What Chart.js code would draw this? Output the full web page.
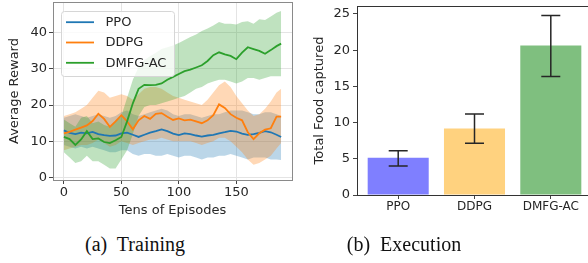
<!DOCTYPE html>
<html>
<head>
<meta charset="utf-8">
<script src="https://cdn.jsdelivr.net/npm/chart.js@4"></script>
<style>
  html, body { margin: 0; padding: 0; background: #fff; width: 588px; height: 263px; overflow: hidden; }
  canvas { position: absolute; top: 0; }
  #train { left: 0; }
  #exec { left: 290px; }
  .cap { position: absolute; top: 233px; font: 20px "Liberation Serif", "Times New Roman", serif; color: #111; white-space: pre; transform: translateX(-50%); }
</style>
</head>
<body>
<canvas id="train" width="300" height="222"></canvas>
<canvas id="exec" width="304" height="222"></canvas>
<div class="cap" style="left:135px">(a)  Training</div>
<div class="cap" style="left:404px">(b)  Execution</div>
<script>
// training curves, read every 5 tens of episodes
const xs = [0,5,10,15,20,25,30,35,40,45,50,55,60,65,70,75,80,85,90,95,100,105,110,115,120,125,130,135,140,145,150,155,160,165,170,175,180,185,189];

const ppoMean = [13.0,12.3,12.0,12.4,12.2,12.6,12.0,11.7,11.5,11.6,12.2,12.4,11.8,11.2,11.8,12.4,12.8,13.3,12.8,12.1,11.7,12.2,12.0,11.6,11.3,11.6,11.8,12.2,12.5,12.9,12.7,12.1,11.8,12.0,12.3,12.8,12.5,11.8,11.2];
const ppoHi   = [16.5,17,17.5,17,16.5,17,17.5,17,16.5,17,18,18.5,17.5,17,17.5,18,18.5,19,18.5,17.5,17,17.5,17.5,17,16.5,17,17.5,17.5,18,18.5,18.5,18.5,18,17.5,17.5,18,18,17.5,17];
const ppoLo   = [9,8.5,8,8.5,8,8.5,8,7.5,7,7,7.5,7.5,6.5,6,6.5,6.5,6,6,6.5,6,5.5,6,6,5.5,5,5.5,5.5,6,6,6.5,6,5.5,5,5.5,5.5,5.5,5,5,4.8];

const ddpgMean = [12.2,12.6,13.2,13.8,14.4,15.6,17.6,16.2,14.0,15.5,17.2,15.5,13.3,15.8,17.0,16.2,17.6,17.8,16.8,15.9,16.3,15.8,16.0,15.5,15.0,15.8,17.2,20.2,19.2,17.5,16.5,15.8,12.5,10.6,12.2,13.2,13.6,16.8,16.8];
const ddpgHi   = [17,17.5,18,19,20,22,24,23.5,22,22.5,23,22.5,21.5,23,24.5,25,25,24.5,23.5,22.5,22,21.5,21,20.5,20,21.5,23.5,25.5,26.5,25,22.5,20.5,18.5,17,17.5,19,21,23.5,24.5];
const ddpgLo   = [7.5,8,8.5,9,9,9.5,10.5,9.5,8.5,9,10,9.5,9,9.5,10,10.5,10.5,11,10.5,10,10,10,10,9.5,9,9.5,10,11,11,10,8.5,7,5,3.5,4,5,6,8,9.5];

const dmfgMean = [11.2,10.6,9.0,10.5,12.8,10.6,10.8,9.8,9.5,10.3,11.2,15.5,20.5,24.5,25.6,25.5,25.6,26.0,27.0,27.8,28.6,29.4,29.8,30.4,31.0,32.2,33.8,34.6,34.0,33.6,32.7,34.5,36.0,35.5,35.0,34.2,35.2,36.3,37.0];
const dmfgHi   = [16,15,14,16.5,17,15,15.5,14.5,14,15.5,17,22,27,30.5,32.5,33.5,34.5,35.5,36,36.5,37.2,38,38.8,39.5,40.5,41.2,42,43,42.5,42.5,42.3,43,43.2,42.5,43.7,43.5,44.5,45.5,46];
const dmfgLo   = [7,5.5,4,4.5,6,4.5,4.5,3.5,2.5,2.5,5,7.5,12,17,19.5,20,20,20.5,21,21.5,22,22.5,23.5,24.5,25,26,26.5,27,27,26.5,26,26.5,27.5,27.5,27,27.5,28,28,28];

const xTicks = [0,50,100,150];
const yTicks = [0,10,20,30,40];

// execution bars
const algos = ['PPO','DDPG','DMFG-AC'];
const foodMean = [5.15,9.2,20.65];
const foodLow  = [4.0,7.15,16.35];
const foodHigh = [6.1,11.2,24.8];
const foodTicks = [0,5,10,15,20,25];

Chart.defaults.font.family = '"DejaVu Sans", sans-serif';
Chart.defaults.font.size = 13;
Chart.defaults.color = '#262626';

const pts = arr => arr.map((v, i) => ({x: xs[i], y: v}));

const band = (arr, fillColor, order) => ({
  data: pts(arr), borderWidth: 0, borderColor: 'rgba(0,0,0,0)', pointRadius: 0,
  backgroundColor: fillColor, fill: fillColor ? '+1' : false, order: order
});
const line = (label, arr, color, order) => ({
  label: label, inLegend: true, data: pts(arr), borderColor: color, borderWidth: 1.8,
  pointRadius: 0, fill: false, order: order
});

const frame = color => ({
  id: 'frame',
  afterDatasetsDraw(chart) {
    const a = chart.chartArea, ctx = chart.ctx;
    ctx.save();
    ctx.strokeStyle = color; ctx.lineWidth = 1;
    ctx.strokeRect(Math.round(a.left) + 0.5, Math.round(a.top) + 0.5,
                   Math.round(a.right - a.left), Math.round(a.bottom - a.top));
    ctx.restore();
  }
});

const legendBox = {
  id: 'legendBox',
  afterDatasetsDraw(chart) {
    const ctx = chart.ctx, a = chart.chartArea;
    const items = chart.data.datasets.filter(d => d.inLegend);
    ctx.save();
    ctx.font = '13px "DejaVu Sans"';
    const tw = Math.max(...items.map(d => ctx.measureText(d.label).width));
    const x0 = Math.round(a.left + 8) + 0.5, y0 = Math.round(a.top + 9) + 0.5;
    const w = Math.round(44 + tw + 8), h = 65;
    ctx.beginPath(); ctx.roundRect(x0, y0, w, h, 3);
    ctx.fillStyle = 'rgba(255,255,255,0.8)'; ctx.fill();
    ctx.strokeStyle = '#d6d6d6'; ctx.lineWidth = 1; ctx.stroke();
    items.forEach((d, i) => {
      const y = y0 + 10.7 + i * 20.3;
      ctx.strokeStyle = d.borderColor; ctx.lineWidth = 1.8;
      ctx.beginPath(); ctx.moveTo(x0 + 4.5, y); ctx.lineTo(x0 + 32.5, y); ctx.stroke();
      ctx.fillStyle = '#262626'; ctx.textBaseline = 'middle';
      ctx.fillText(d.label, x0 + 44, y + 0.5);
    });
    ctx.restore();
  }
};

const errorBars = {
  id: 'errorBars',
  afterDatasetsDraw(chart) {
    const {ctx, scales: {x, y}} = chart;
    ctx.save();
    ctx.strokeStyle = '#262626'; ctx.lineWidth = 1.5;
    foodLow.forEach((lo, i) => {
      const px = x.getPixelForValue(i);
      const p1 = y.getPixelForValue(lo), p2 = y.getPixelForValue(foodHigh[i]);
      ctx.beginPath();
      ctx.moveTo(px, p1); ctx.lineTo(px, p2);
      ctx.moveTo(px - 9.5, p1); ctx.lineTo(px + 9.5, p1);
      ctx.moveTo(px - 9.5, p2); ctx.lineTo(px + 9.5, p2);
      ctx.stroke();
    });
    ctx.restore();
  }
};

const tickGrid = (onArea) => ({
  display: true, drawOnChartArea: onArea, offset: false, color: '#e4e4e4', lineWidth: 1,
  drawTicks: true, tickLength: 4, tickColor: '#444', tickWidth: 1
});

// keep the plot area where the figure has it (no auto label padding)
const fixX = h => s => { s.height = h; s.paddingLeft = 0; s.paddingRight = 0; };
const fixY = w => s => { s.width = w; s.paddingTop = 0; s.paddingBottom = 0; };

new Chart(document.getElementById('train'), {
  type: 'line',
  data: { datasets: [
    band(ppoHi, 'rgba(31,119,180,0.3)', 12), band(ppoLo, null, 20),
    band(ddpgHi, 'rgba(255,127,14,0.3)', 11), band(ddpgLo, null, 20),
    band(dmfgHi, 'rgba(44,160,44,0.3)', 10), band(dmfgLo, null, 20),
    line('PPO', ppoMean, '#1f77b4', 3),
    line('DDPG', ddpgMean, '#ff7f0e', 2),
    line('DMFG-AC', dmfgMean, '#2ca02c', 1)
  ]},
  options: {
    responsive: false, animation: false,
    layout: { padding: { top: 2, right: 8, left: 0, bottom: 0 } },
    plugins: { legend: { display: false }, tooltip: { enabled: false } },
    scales: {
      x: {
        type: 'linear', min: -9.45, max: 198.45,
        afterBuildTicks: s => { s.ticks = xTicks.map(v => ({value: v})); },
        afterFit: fixX(42),
        grid: tickGrid(true), border: { display: false },
        ticks: { padding: 1, maxRotation: 0 },
        title: { display: true, text: 'Tens of Episodes', padding: { top: 0, bottom: 4 } }
      },
      y: {
        min: -0.7, max: 48.5,
        afterBuildTicks: s => { s.ticks = yTicks.map(v => ({value: v})); },
        afterFit: fixY(53),
        grid: tickGrid(true), border: { display: false },
        ticks: { padding: 2 },
        title: { display: true, text: 'Average Reward', padding: { top: 7, bottom: 0 } }
      }
    }
  },
  plugins: [frame('#8a8a8a'), legendBox]
});

new Chart(document.getElementById('exec'), {
  type: 'bar',
  data: { datasets: [{
    data: foodMean.map((v, i) => ({x: i, y: v})),
    backgroundColor: ['rgba(0,0,255,0.5)', 'rgba(255,165,0,0.5)', 'rgba(0,128,0,0.5)'],
    borderWidth: 0, categoryPercentage: 0.8, barPercentage: 1
  }]},
  options: {
    responsive: false, animation: false,
    layout: { padding: { top: 6, right: 2, left: 0, bottom: 0 } },
    plugins: { legend: { display: false }, tooltip: { enabled: false } },
    scales: {
      x: {
        type: 'linear', min: -0.54, max: 2.54, offset: false,
        afterBuildTicks: s => { s.ticks = algos.map((a, i) => ({value: i})); },
        afterFit: fixX(27),
        grid: tickGrid(false), border: { display: false },
        ticks: { padding: 1, maxRotation: 0, font: { size: 12 }, callback: (v, i) => algos[i] }
      },
      y: {
        min: 0, max: 26.1,
        afterBuildTicks: s => { s.ticks = foodTicks.map(v => ({value: v})); },
        afterFit: fixY(67),
        grid: tickGrid(false), border: { display: false },
        ticks: { padding: 3 },
        title: { display: true, text: 'Total Food captured', padding: { top: 22, bottom: 0 } }
      }
    }
  },
  plugins: [frame('#333'), errorBars]
});
</script>
</body>
</html>
